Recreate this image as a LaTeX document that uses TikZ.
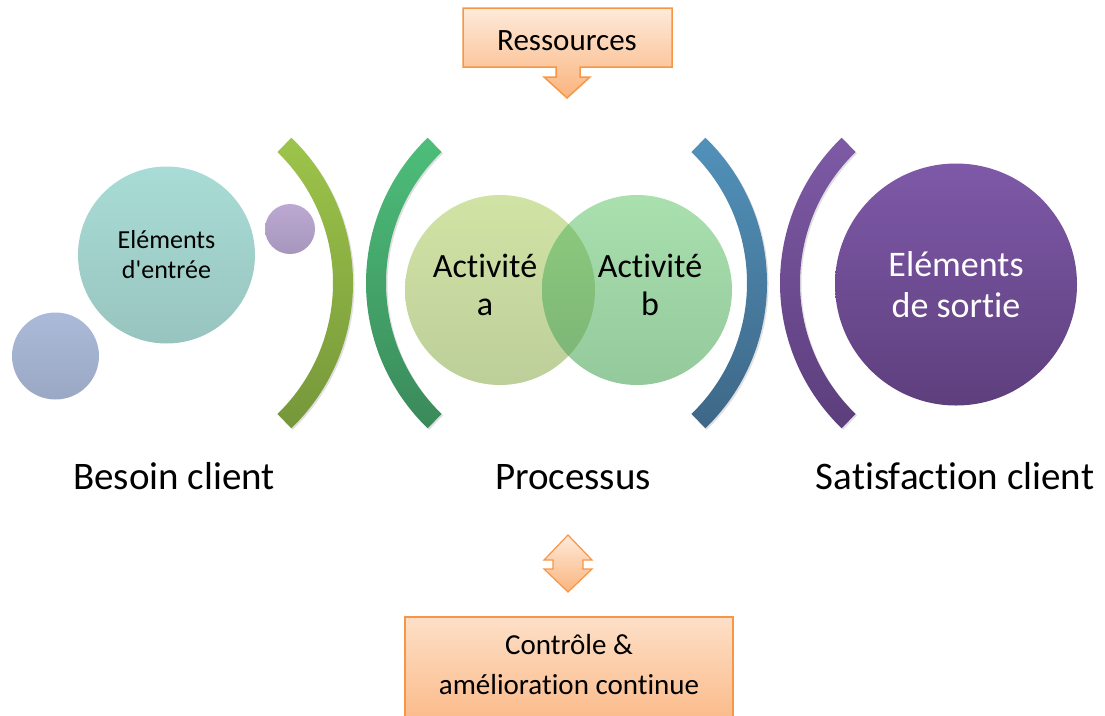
\documentclass[tikz,border=0pt]{standalone}
\usepackage{fontspec}
\setmainfont{Carlito}[Ligatures={TeXOff,NoCommon}]
\usetikzlibrary{calc,shadows}
\definecolor{orline}{HTML}{F79646}
\definecolor{ortop}{HTML}{FEEADA}
\definecolor{orbot}{HTML}{FAB47E}
\definecolor{aAt}{HTML}{9DC44A}\definecolor{aAb}{HTML}{76973A}
\definecolor{aBt}{HTML}{4DBE7A}\definecolor{aBb}{HTML}{3A8A5A}
\definecolor{aCt}{HTML}{5191BA}\definecolor{aCb}{HTML}{3E6787}
\definecolor{aDt}{HTML}{7E5AA6}\definecolor{aDb}{HTML}{5C3E7C}
\definecolor{entT}{HTML}{A9DCD6}\definecolor{entB}{HTML}{98C4BF}
\definecolor{puT}{HTML}{BCA9D2}\definecolor{puB}{HTML}{A696BC}
\definecolor{bgT}{HTML}{AABAD8}\definecolor{bgB}{HTML}{9BA8C4}
\definecolor{acaT}{HTML}{D1E3A4}\definecolor{acaB}{HTML}{BDCF9A}
\definecolor{acbT}{HTML}{A9E0AE}\definecolor{acbB}{HTML}{94C99C}
\definecolor{lensT}{HTML}{8ECC7E}\definecolor{lensB}{HTML}{7BB375}
\definecolor{soT}{HTML}{7E59A8}\definecolor{soB}{HTML}{5E3F7D}
\tikzset{
  disc/.style={circle,inner sep=0pt,minimum size=#1},
  band/.style={drop shadow={shadow xshift=1.5pt,shadow yshift=-1.5pt,opacity=0.12,fill=black}},
  orshape/.style={draw=orline,line width=1.5pt,top color=ortop,bottom color=orbot,line join=miter},
  lbl/.style={font=\fontsize{39}{44}\selectfont,anchor=base},
}
\begin{document}
\begin{tikzpicture}[x=1pt,y=-1pt]
\useasboundingbox (0,0) rectangle (1105,715);
% arcs
\coordinate (c1) at (151,283);
\coordinate (c2) at (568,283);
\coordinate (c3) at (565,283);
\coordinate (c4) at (982,283);
\path[band,top color=aAt,bottom color=aAb] ($(c1)+(-46:202pt)$) arc[start angle=-46,end angle=46,radius=202pt] -- ($(c1)+(46:182pt)$) arc[start angle=46,end angle=-46,radius=182pt] -- cycle;
\path[band,top color=aBt,bottom color=aBb] ($(c2)+(134:202pt)$) arc[start angle=134,end angle=226,radius=202pt] -- ($(c2)+(226:182pt)$) arc[start angle=226,end angle=134,radius=182pt] -- cycle;
\path[band,top color=aCt,bottom color=aCb] ($(c3)+(-46:202pt)$) arc[start angle=-46,end angle=46,radius=202pt] -- ($(c3)+(46:182pt)$) arc[start angle=46,end angle=-46,radius=182pt] -- cycle;
\path[band,top color=aDt,bottom color=aDb] ($(c4)+(134:202pt)$) arc[start angle=134,end angle=226,radius=202pt] -- ($(c4)+(226:182pt)$) arc[start angle=226,end angle=134,radius=182pt] -- cycle;
% left circles
\node[disc=177pt,top color=entT,bottom color=entB,align=center,font=\fontsize{26}{30}\selectfont] (entree) at (166.5,255) {Eléments\\d'entrée};
\node[disc=50pt,top color=puT,bottom color=puB] (small) at (290,229) {};
\node[disc=87pt,top color=bgT,bottom color=bgB] (bluegray) at (55.5,356) {};
% activities
\node[disc=190pt,top color=acaT,bottom color=acaB] (acta) at (500,290) {};
\node[disc=190pt,top color=acbT,bottom color=acbB] (actb) at (637,290) {};
\begin{scope}
\clip (500,290) circle[radius=95pt];
\path[top color=lensT,bottom color=lensB] (637,290) circle[radius=95pt];
\end{scope}
\node[align=center,font=\fontsize{34}{38}\selectfont] (ta) at (485,285) {Activité\\a};
\node[align=center,font=\fontsize{34}{38}\selectfont] (tb) at (650,285) {Activité\\b};
% output
\node[disc=242pt,top color=soT,bottom color=soB,text=white,align=center,font=\fontsize{36}{41}\selectfont] (sortie) at (956,284.5) {Eléments\\de sortie};
% labels
\node[lbl] (besoin) at (174,489) {Besoin client};
\node[lbl] (proc) at (573,489) {Processus};
\node[lbl] (satis) at (955,489) {Satisfaction client};
% Ressources callout
\path[orshape] (463,8) -- (672,8) -- (672,67) -- (580,67) -- (580,77) -- (590,77) -- (567,98) -- (544,77) -- (556,77) -- (556,67) -- (463,67) -- cycle;
\node[font=\fontsize{31}{35}\selectfont,anchor=base] (res) at (567,50) {Ressources};
% double arrow
\path[orshape,line width=1.2pt] (568,535) -- (592,560) -- (583,560) -- (583,569) -- (592,569) -- (568,592) -- (544,569) -- (553,569) -- (553,560) -- (544,560) -- cycle;
% bottom box
\path[orshape,top color=ortop!80!orbot] (405,617) rectangle (733,740);
\node[font=\fontsize{29}{40}\selectfont,align=center] (ctrl) at (569,665) {Contrôle \&\\amélioration continue};
\end{tikzpicture}
\end{document}
